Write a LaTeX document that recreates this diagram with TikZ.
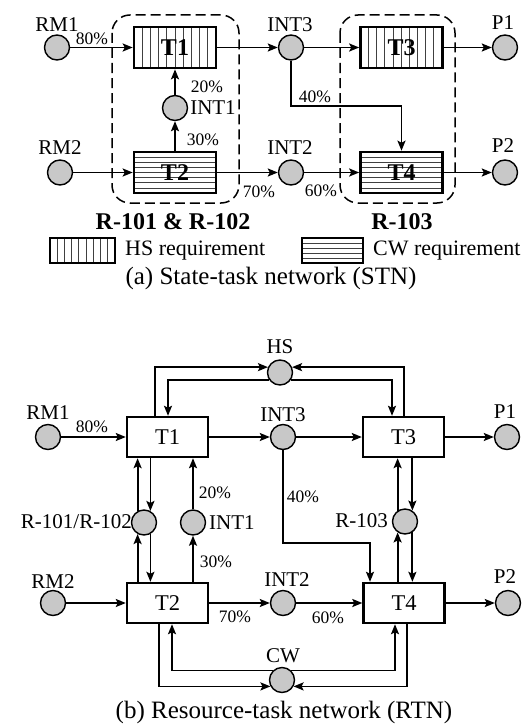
\documentclass[tikz,border=0pt]{standalone}
\usepackage{fontspec}
\setmainfont{Liberation Serif}
\usetikzlibrary{arrows.meta,calc}
\definecolor{stgray}{RGB}{200,200,200}
\begin{document}
\begin{tikzpicture}[x=1pt,y=-1pt,
  lab/.style={font=\fontsize{21}{24}\selectfont, inner sep=0pt},
  pct/.style={font=\fontsize{17.5}{20}\selectfont, inner sep=0pt},
  capt/.style={font=\fontsize{25}{28}\selectfont, inner sep=0pt},
  grplab/.style={font=\bfseries\fontsize{24}{26}\selectfont, inner sep=0pt},
  st/.style={circle, draw, line width=1.4pt, fill=stgray, minimum size=25pt, inner sep=0pt},
  hl/.style={line width=0.7pt, black!75},
  vhatch/.style n args={2}{path picture={\foreach \i in {1,...,#1}{\draw[hl] ([xshift=\i*#2]path picture bounding box.south west) -- ([xshift=\i*#2]path picture bounding box.north west);}}},
  hhatch/.style n args={2}{path picture={\foreach \i in {1,...,#1}{\draw[hl] ([yshift=\i*#2]path picture bounding box.south west) -- ([yshift=\i*#2]path picture bounding box.south east);}}},
  tka/.style={draw, line width=2.6pt, fill=white, minimum width=82pt, minimum height=41pt, inner sep=0pt, font=\bfseries\fontsize{24}{26}\selectfont},
  tkb/.style={draw, line width=2.4pt, fill=white, minimum width=81pt, minimum height=40pt, inner sep=0pt, font=\fontsize{22.5}{24}\selectfont},
  legbox/.style={draw, line width=1.5pt, minimum width=65pt, minimum height=25pt, inner sep=0pt},
  arr/.style={line width=1.8pt, -{Stealth[length=10pt,width=8pt,inset=2pt]}},
  grp/.style={draw, line width=1.5pt, dash pattern=on 10pt off 5pt, rounded corners=18pt}
]
\useasboundingbox (0,0) rectangle (525,725);

% ---------------- (a) STN ----------------
\draw[grp] (112,15) rectangle (239,203);
\draw[grp] (340,15) rectangle (455,203);

\node[st] (RMa) at (57,47.5) {};
\node[lab] (RMaL) at (57,25) {RM1};
\node[tka, vhatch={9}{8.2pt}] (T1a) at (175,47.5) {T1};
\node[st] (I3a) at (291,47.5) {};
\node[lab] (I3aL) at (290,25) {INT3};
\node[tka, vhatch={9}{8.1pt}] (T3a) at (401.5,47.5) {T3};
\node[st] (P1a) at (505,47.5) {};
\node[lab] (P1aL) at (503,23) {P1};
\node[st] (I1a) at (175,108) {};
\node[lab] (I1aL) at (213,108) {INT1};
\node[st] (RM2a) at (60,172.5) {};
\node[lab] (RM2aL) at (60,148) {RM2};
\node[tka, hhatch={7}{5.1pt}] (T2a) at (175,172.5) {T2};
\node[st] (I2a) at (291,172.5) {};
\node[lab] (I2aL) at (290,148) {INT2};
\node[tka, hhatch={7}{5.1pt}] (T4a) at (401.5,172.5) {T4};
\node[st] (P2a) at (505,172.5) {};
\node[lab] (P2aL) at (503,146) {P2};

\node[pct] (pa80) at (92,39) {80\%};
\node[pct] (pa20) at (207,87) {20\%};
\node[pct] (pa30) at (203,140) {30\%};
\node[pct] (pa70) at (259,192) {70\%};
\node[pct] (pa60) at (321,191) {60\%};
\node[pct] (pa40) at (315,97) {40\%};

\draw[arr] (RMa) -- (T1a);
\draw[arr] (T1a) -- (I3a);
\draw[arr] (I3a) -- (T3a);
\draw[arr] (T3a) -- (P1a);
\draw[arr] (RM2a) -- (T2a);
\draw[arr] (T2a) -- (I2a);
\draw[arr] (I2a) -- (T4a);
\draw[arr] (T4a) -- (P2a);
\draw[arr] (T2a) -- (I1a);
\draw[arr] (I1a) -- (T1a);
\coordinate (benda) at (401.5,106);
\draw[arr] (I3a) |- (benda) -- (T4a);

\node[grplab] (g1) at (173,222) {R-101 \& R-102};
\node[grplab] (g2) at (402,222) {R-103};

\node[legbox, vhatch={8}{7.2pt}] (lhs) at (82.5,250.5) {};
\node[lab, anchor=west, font=\fontsize{22}{24}\selectfont] (lhsT) at (125,251) {HS requirement};
\node[legbox, minimum width=61pt, hhatch={4}{5pt}] (lcw) at (332.5,250.5) {};
\node[lab, anchor=west, font=\fontsize{22}{24}\selectfont] (lcwT) at (373,251) {CW requirement};

\node[capt] (capa) at (271,278) {(a) State-task network (STN)};

% ---------------- (b) RTN ----------------
\node[st] (HS) at (280,372.5) {};
\node[lab] (HSL) at (280,347) {HS};
\node[st] (RMb) at (48,437) {};
\node[lab] (RMbL) at (48,413) {RM1};
\node[tkb] (T1b) at (167.5,437) {T1};
\node[st] (I3b) at (283,437) {};
\node[lab] (I3bL) at (283,415) {INT3};
\node[tkb] (T3b) at (403.5,437) {T3};
\node[st] (P1b) at (507,437) {};
\node[lab] (P1bL) at (505,412) {P1};
\node[st] (R12) at (144,522.5) {};
\node[lab, anchor=east] (R12L) at (132,522) {R-101/R-102};
\node[st] (I1b) at (193,522.5) {};
\node[lab, anchor=west] (I1bL) at (209,523) {INT1};
\node[st] (R3) at (405,521.5) {};
\node[lab, anchor=east] (R3L) at (388,521) {R-103};
\node[st] (RM2b) at (53,603) {};
\node[lab] (RM2bL) at (53,582) {RM2};
\node[tkb] (T2b) at (167.5,603) {T2};
\node[st] (I2b) at (283,603) {};
\node[lab] (I2bL) at (287,580) {INT2};
\node[tkb] (T4b) at (404,603) {T4};
\node[st] (P2b) at (508,603) {};
\node[lab] (P2bL) at (505,577) {P2};
\node[st] (CW) at (282,680) {};
\node[lab] (CWL) at (283,656) {CW};

\node[pct] (pb80) at (92,427) {80\%};
\node[pct] (pb20) at (215,493) {20\%};
\node[pct] (pb30) at (216,562) {30\%};
\node[pct] (pb70) at (235,617) {70\%};
\node[pct] (pb60) at (328,618) {60\%};
\node[pct] (pb40) at (303,497) {40\%};

\draw[arr] (RMb) -- (T1b);
\draw[arr] (T1b) -- (I3b);
\draw[arr] (I3b) -- (T3b);
\draw[arr] (T3b) -- (P1b);
\draw[arr] (RM2b) -- (T2b);
\draw[arr] (T2b) -- (I2b);
\draw[arr] (I2b) -- (T4b);
\draw[arr] (T4b) -- (P2b);

% HS loops
\draw[arr] ([xshift=-12.5pt]T1b.north) |- (HS.156);
\draw[arr] (HS.214) -| ([xshift=0.5pt]T1b.north);
\draw[arr] ([xshift=0.5pt]T3b.north) |- (HS.24);
\draw[arr] (HS.-34) -| ([xshift=-11.5pt]T3b.north);

% R-101/R-102
\draw[arr] (R12.119) -- (T1b.south -| R12.119);
\draw[arr] (T1b.south -| R12.61) -- (R12.61);
\draw[arr] (T2b.north -| R12.241) -- (R12.241);
\draw[arr] (R12.299) -- (T2b.north -| R12.299);

% INT1
\draw[arr] (T2b.north -| I1b) -- (I1b);
\draw[arr] (I1b) -- (T1b.south -| I1b);

% R-103
\draw[arr] (R3.124) -- (T3b.south -| R3.124);
\draw[arr] (T3b.south -| R3.56) -- (R3.56);
\draw[arr] (T4b.north -| R3.236) -- (R3.236);
\draw[arr] (R3.304) -- (T4b.north -| R3.304);

% INT3 -> T4
\coordinate (bendb) at (370,543);
\draw[arr] (I3b) |- (bendb) -- (bendb |- T4b.north);

% CW loops
\draw[arr] ([xshift=-8.5pt]T2b.south) |- (CW.209);
\draw[arr] (CW.134) -| ([xshift=4.5pt]T2b.south);
\draw[arr] ([xshift=3pt]T4b.south) |- (CW.-29);
\draw[arr] (CW.46) -| ([xshift=-9pt]T4b.south);

\node[capt] (capb) at (284,712) {(b) Resource-task network (RTN)};
\end{tikzpicture}
\end{document}
